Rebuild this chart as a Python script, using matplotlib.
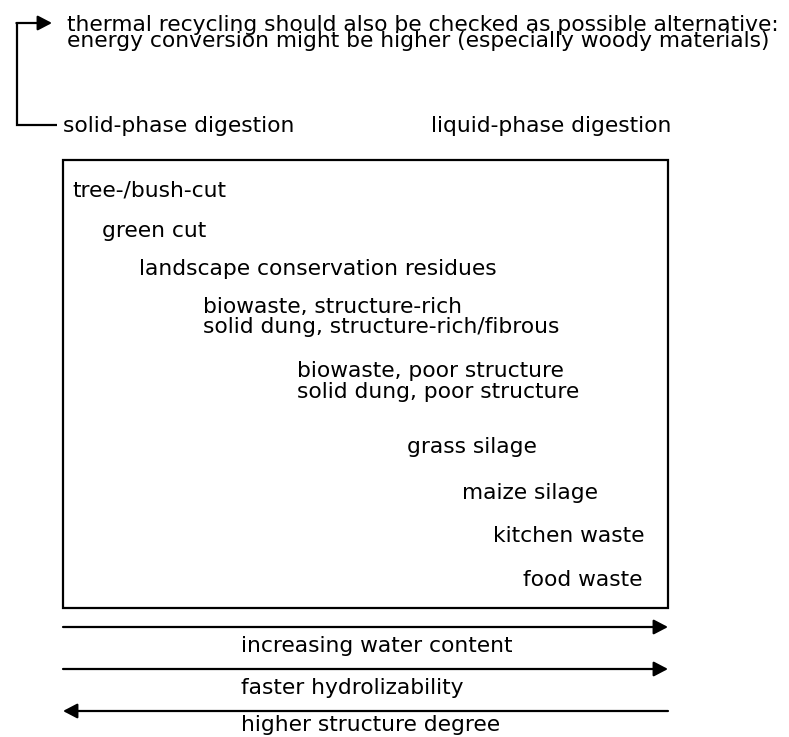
import matplotlib
matplotlib.use("Agg")
import matplotlib.pyplot as plt
from matplotlib.patches import Rectangle

plt.rcParams['font.family'] = ['DejaVu Sans']
FS = 15.7

# top note
note_lines = ["thermal recycling should also be checked as possible alternative:",
              "energy conversion might be higher (especially woody materials)"]
left_head = "solid-phase digestion"
right_head = "liquid-phase digestion"

# substrates, from solid-phase to liquid-phase
substrates = ["tree-/bush-cut",
              "green cut",
              "landscape conservation residues",
              "biowaste, structure-rich",
              "solid dung, structure-rich/fibrous",
              "biowaste, poor structure",
              "solid dung, poor structure",
              "grass silage",
              "maize silage",
              "kitchen waste",
              "food waste"]
sub_x = [72, 102, 139, 203, 203, 297, 297, 407, 462, 493, 523]
sub_y = [196, 237, 275, 313, 333, 377, 398, 453, 499, 542, 586]

# trend arrows below the box
trends = ["increasing water content", "faster hydrolizability", "higher structure degree"]
trend_dir = [1, 1, -1]
trend_y = [627, 669, 711]
trend_text_y = [652, 694, 731]

fig = plt.figure(figsize=(7.89, 7.37), dpi=100)
ax = fig.add_axes([0, 0, 1, 1])
ax.set_xlim(0, 789)
ax.set_ylim(737, 0)
ax.axis('off')

arrow_style = '-|>,head_length=0.86,head_width=0.45'

# bracket from solid-phase to thermal note
ax.plot([57, 17, 17], [125, 125, 23], color='black', lw=1.6,
        solid_joinstyle='miter', solid_capstyle='butt')
ax.annotate('', xy=(52, 23), xytext=(16.4, 23),
            arrowprops=dict(arrowstyle=arrow_style, color='black', lw=1.6,
                            shrinkA=0, shrinkB=0, mutation_scale=10))

# two tight lines; baseline alignment here sits on the last line
ax.text(67, 47, "\n".join(note_lines), fontsize=FS, ha='left', va='baseline',
        linespacing=0.72)

ax.text(63, 132, left_head, fontsize=FS, ha='left', va='baseline')
ax.text(671, 132, right_head, fontsize=FS, ha='right', va='baseline')

# main box
ax.add_patch(Rectangle((63, 160), 605, 448, fill=False, edgecolor='black', lw=1.6))

for label, x, y in zip(substrates, sub_x, sub_y):
    ax.text(x, y, label, fontsize=FS, ha='left', va='baseline')

for label, d, y, ty in zip(trends, trend_dir, trend_y, trend_text_y):
    x0, x1 = (63, 668) if d > 0 else (668, 63)
    ax.annotate('', xy=(x1, y), xytext=(x0, y),
                arrowprops=dict(arrowstyle=arrow_style, color='black', lw=1.6,
                                shrinkA=0, shrinkB=0, mutation_scale=10))
    ax.text(241, ty, label, fontsize=FS, ha='left', va='baseline')

fig.savefig("out.png", dpi=100, facecolor='white')
